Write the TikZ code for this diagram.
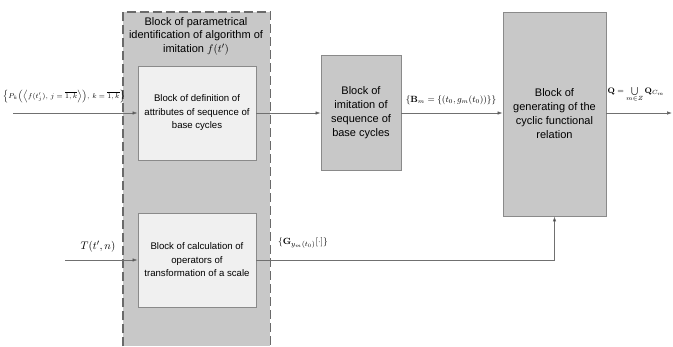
\documentclass[tikz,border=0pt]{standalone}
\usepackage{amsmath}
\usepackage[no-math]{fontspec}
\setmainfont{Liberation Sans}
\usetikzlibrary{arrows.meta}
\definecolor{blockgray}{HTML}{C8C8C8}
\definecolor{innerfill}{HTML}{F0F0F0}
\definecolor{edgegray}{HTML}{8A8A8A}
\definecolor{linegray}{HTML}{707070}
\definecolor{dashgray}{HTML}{6A6A6A}
\tikzset{
  bigblock/.style={draw=edgegray, line width=0.8pt, fill=blockgray, inner sep=0pt, align=center, font=\fontsize{11}{14}\selectfont},
  innerbox/.style={draw=edgegray, line width=0.8pt, fill=innerfill, inner sep=0pt, align=center, font=\fontsize{9.6}{13.5}\selectfont},
  conn/.style={draw=linegray, line width=0.7pt, -{Latex[length=5pt,width=3.6pt,fill=black]}},
  mlabel/.style={inner sep=0pt, font=\fontsize{9}{11}\selectfont}
}
\begin{document}
\begin{tikzpicture}[x=1pt,y=-1pt]
\useasboundingbox (0,0) rectangle (673,346);
\fill[white] (0,0) rectangle (673,346);
% outer dashed block
\node[fill=blockgray, minimum width=147pt, minimum height=334pt, inner sep=0pt, anchor=north west] (outer) at (123,12) {};
\draw[dashgray, line width=1.8pt, dash pattern=on 9pt off 4pt] (outer.south west) -- (outer.north west) -- (outer.north east) -- (outer.south east);
\node[align=center, inner sep=0pt, font=\fontsize{11}{13.5}\selectfont] (title) at (196,36) {Block of parametrical\\identification of algorithm of\\imitation $f(t')$};
% inner boxes
\node[innerbox, minimum width=118pt, minimum height=94pt] (top) at (197,113) {Block of definition of\\attributes of sequence of\\base cycles};
\node[innerbox, minimum width=118pt, minimum height=94pt] (bot) at (197,260) {Block of calculation of\\operators of\\transformation of a scale};
% other blocks
\node[bigblock, minimum width=80pt, minimum height=115pt] (mid) at (361,112.5) {Block of\\imitation of\\sequence of\\base cycles};
\node[bigblock, minimum width=103pt, minimum height=204pt] (rb) at (554.5,114) {Block of\\generating of the\\cyclic functional\\relation};
% coordinates
\coordinate (pin) at (13,113);
\coordinate (qout) at (672,113);
\coordinate (tin) at (65,260);
% connectors
\draw[conn] (pin) -- (top.west);
\draw[conn] (top.east) -- (mid.west |- top.east);
\draw[conn] (mid.east |- top.east) -- (rb.west |- top.east);
\draw[conn] (rb.east |- top.east) -- (qout);
\draw[conn] (tin) -- (bot.west);
\draw[conn] (bot.east) -| (rb.south);
% labels
\node[mlabel, font=\fontsize{7.1}{9}\selectfont] (plab) at (64,96.5) {$\left\{P_k\!\left(\left\langle f(t'_j),\, j=\overline{1,k}\right\rangle\right)\!,\, k=\overline{1,k}\right\}$};
\node[mlabel, font=\fontsize{8.6}{10}\selectfont] (blab) at (451,100) {$\{\mathbf{B}_m=\{(t_0,g_m(t_0))\}\}$};
\node[mlabel, font=\fontsize{8.5}{10}\selectfont] (qlab) at (636,95) {$\mathbf{Q}=\bigcup\limits_{m\in Z}\mathbf{Q}_{C_m}$};
\node[mlabel, font=\fontsize{9.5}{11}\selectfont] (glab) at (303,243) {$\{\mathbf{G}_{y_m(t_0)}[\cdot]\}$};
\node[mlabel, font=\fontsize{11}{13}\selectfont] (tlab) at (98,247) {$T(t',n)$};
\end{tikzpicture}
\end{document}
